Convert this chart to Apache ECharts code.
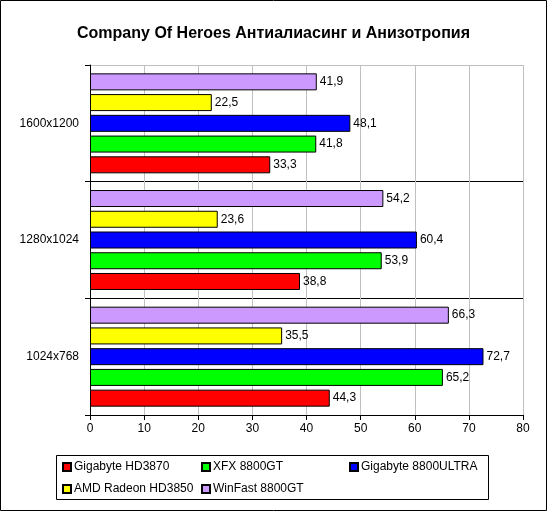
<!DOCTYPE html>
<html>
<head>
<meta charset="utf-8">
<script src="https://cdn.jsdelivr.net/npm/echarts@6/dist/echarts.min.js"></script>
<style>
  html, body { margin: 0; padding: 0; background: #fff; }
  #main { width: 547px; height: 511px; }
</style>
</head>
<body>
<div id="main"></div>
<script>
// data
const categories = ['1024x768', '1280x1024', '1600x1200'];
const hd3870 = [44.3, 38.8, 33.3];
const xfx8800gt = [65.2, 53.9, 41.8];
const ultra8800 = [72.7, 60.4, 48.1];
const hd3850 = [35.5, 23.6, 22.5];
const winfast = [66.3, 54.2, 41.9];
const xTicks = [0, 10, 20, 30, 40, 50, 60, 70, 80];

const names = ['Gigabyte HD3870', 'XFX 8800GT', 'Gigabyte 8800ULTRA', 'AMD Radeon HD3850', 'WinFast 8800GT'];
const colors = ['#ff0000', '#00ff00', '#0000ff', '#ffff00', '#cc99ff'];
const values = [hd3870, xfx8800gt, ultra8800, hd3850, winfast];

const font = 'Arial, "Liberation Sans", sans-serif';
const chart = echarts.init(document.getElementById('main'));

// echarts stacks the first series at the top of a band, the original has it at the bottom
const series = names.map((n, i) => ({
  name: n,
  type: 'bar',
  data: values[i],
  barWidth: 17,
  barGap: '22%',
  itemStyle: { color: colors[i], borderColor: '#000', borderWidth: 1 },
  label: {
    show: true,
    position: 'right',
    distance: 3,
    color: '#000',
    fontFamily: font,
    fontSize: 12,
    formatter: p => p.value.toFixed(1).replace('.', ',')
  }
})).reverse();

// one legend per item so they sit in the same columns as the original
const legendPos = [[62, 461], [201, 461], [349, 461], [62, 483], [201, 483]];
const legends = names.map((n, i) => ({
  data: [n],
  left: legendPos[i][0],
  top: legendPos[i][1],
  itemWidth: 8,
  itemHeight: 8,
  itemGap: 4,
  padding: 0,
  icon: 'rect',
  selectedMode: false,
  textStyle: { color: '#000', fontFamily: font, fontSize: 12, padding: [0, 0, 0, -2] }
}));

chart.setOption({
  animation: false,
  backgroundColor: '#fff',
  title: {
    text: 'Company Of Heroes Антиалиасинг и Анизотропия',
    left: 'center',
    top: 21,
    textStyle: { color: '#000', fontFamily: font, fontSize: 16, fontWeight: 'bold' }
  },
  legend: legends,
  grid: { left: 90, right: 24, top: 65, bottom: 96 },
  xAxis: {
    type: 'value',
    min: xTicks[0],
    max: xTicks[xTicks.length - 1],
    interval: 10,
    axisLine: { show: true, lineStyle: { color: '#000' } },
    axisTick: { show: true, length: 5, lineStyle: { color: '#000' } },
    axisLabel: { color: '#000', fontFamily: font, fontSize: 12, margin: 8 },
    splitLine: { show: true, lineStyle: { color: '#c0c0c0' } }
  },
  yAxis: {
    type: 'category',
    data: categories,
    axisLine: { show: true, lineStyle: { color: '#000' } },
    axisTick: { show: true, length: 5, lineStyle: { color: '#000' } },
    axisLabel: { color: '#000', fontFamily: font, fontSize: 12, margin: 11 },
    splitLine: { show: true, lineStyle: { color: ['#000', '#000', '#000', '#c0c0c0'] } }
  },
  graphic: [
    {
      type: 'rect',
      shape: { x: 56.5, y: 455.5, width: 432, height: 44 },
      style: { fill: 'none', stroke: '#000', lineWidth: 1 },
      z: -1
    },
    {
      type: 'rect',
      shape: { x: 0.5, y: 0.5, width: 546, height: 510 },
      style: { fill: 'none', stroke: '#000', lineWidth: 1 },
      z: -1
    }
  ],
  series: series
});
</script>
</body>
</html>
